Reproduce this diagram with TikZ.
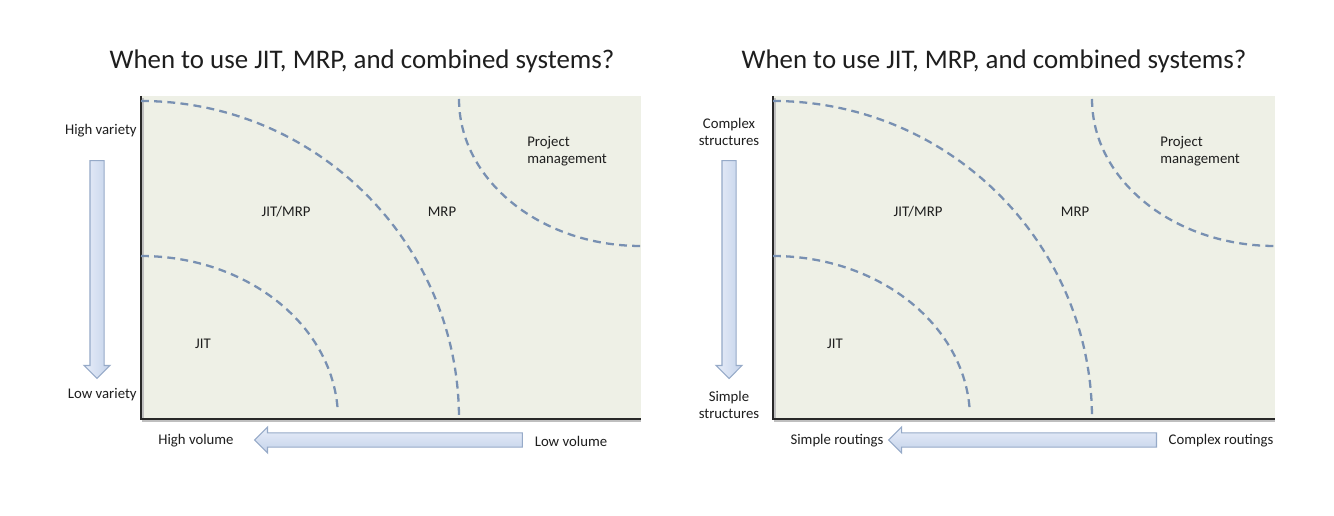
\documentclass[tikz,border=0pt]{standalone}
\usepackage{fontspec}
\setmainfont{Carlito}
\usetikzlibrary{positioning,shapes.arrows}
\definecolor{panelfill}{RGB}{238,240,230}
\definecolor{dashblue}{RGB}{120,144,178}
\definecolor{axisgray}{RGB}{40,40,40}
\definecolor{arrowlight}{RGB}{232,238,249}
\definecolor{arrowdark}{RGB}{196,210,234}
\definecolor{arrowedge}{RGB}{150,170,200}
\definecolor{inkgray}{RGB}{30,30,30}

\begin{document}
\begin{tikzpicture}[x=0.02cm,y=-0.02cm,
  title/.style={font=\fontsize{15.3}{17}\selectfont,color=inkgray},
  lab/.style={font=\fontsize{8.4}{9.7}\selectfont,color=inkgray,align=center,inner sep=0pt},
  zone/.style={font=\fontsize{8.4}{9.7}\selectfont,color=inkgray,align=left,inner sep=0pt},
  bound/.style={color=dashblue,line width=1.3pt,dash pattern=on 4.5pt off 3pt},
  axis/.style={color=axisgray,line width=1.2pt},
  axshadow/.style={color=black!25,line width=1.4pt},
  blockarrow/.style={single arrow,draw=arrowedge,line width=0.6pt,
              inner sep=3.7pt,minimum width=14.2pt,single arrow head extend=3.4pt},
  harrow/.style={blockarrow,shape border rotate=180,top color=arrowlight,bottom color=arrowdark},
  varrow/.style={blockarrow,shape border rotate=270,left color=arrowlight,right color=arrowdark}]
  \useasboundingbox[fill=white] (0,0) rectangle (1334,516);

  % left panel
  \node[title] (ttlL) at (362,61) {When to use JIT, MRP, and combined systems?};
  \fill[panelfill] (141,96) rectangle (641,419);
  \draw[axshadow] (143,98) -- (143,421) -- (641,421);
  \draw[axis] (141,96) -- (141,419) -- (641,419);
  \draw[bound] (141,256) arc[start angle=270,end angle=357,x radius=197,y radius=163];
  \draw[bound] (141,101) arc[start angle=270,end angle=360,x radius=318,y radius=318];
  \draw[bound] (459,99) arc[start angle=180,end angle=90,x radius=182,y radius=147];
  \node[zone] (jitmrpL) at (286,212) {JIT/MRP};
  \node[zone] (mrpL) at (442,212) {MRP};
  \node[zone,anchor=west] (pmL) at (527,151) {Project\\management};
  \node[zone] (jitL) at (203,344) {JIT};
  \node[lab,anchor=east] (hvar) at (137,131) {High variety};
  \node[lab,anchor=east] (lvar) at (137,395) {Low variety};
  \node[varrow,minimum height=4.36cm] (varArrow) at (97,266) {};
  \node[lab] (hvol) at (196,441) {High volume};
  \node[lab] (lvol) at (571,441) {Low volume};
  \node[harrow,minimum height=5.36cm] (volArrow) at (392,440) {};

  % right panel
  \node[title] (ttlR) at (994,61) {When to use JIT, MRP, and combined systems?};
  \fill[panelfill] (773,96) rectangle (1275,419);
  \draw[axshadow] (775,98) -- (775,421) -- (1275,421);
  \draw[axis] (773,96) -- (773,419) -- (1275,419);
  \draw[bound] (773,256) arc[start angle=270,end angle=357,x radius=197,y radius=163];
  \draw[bound] (773,101) arc[start angle=270,end angle=360,x radius=319,y radius=318];
  \draw[bound] (1092,99) arc[start angle=180,end angle=90,x radius=183,y radius=147];
  \node[zone] (jitmrpR) at (918,212) {JIT/MRP};
  \node[zone] (mrpR) at (1075,212) {MRP};
  \node[zone,anchor=west] (pmR) at (1160,151) {Project\\management};
  \node[zone] (jitR) at (835,344) {JIT};
  \node[lab] (cstr) at (729,132) {Complex\\structures};
  \node[lab] (sstr) at (729,405) {Simple\\structures};
  \node[varrow,minimum height=4.36cm] (strArrow) at (729,266) {};
  \node[lab] (srout) at (837,441) {Simple routings};
  \node[lab] (crout) at (1221,441) {Complex routings};
  \node[harrow,minimum height=5.36cm] (routArrow) at (1026,440) {};
\end{tikzpicture}
\end{document}
